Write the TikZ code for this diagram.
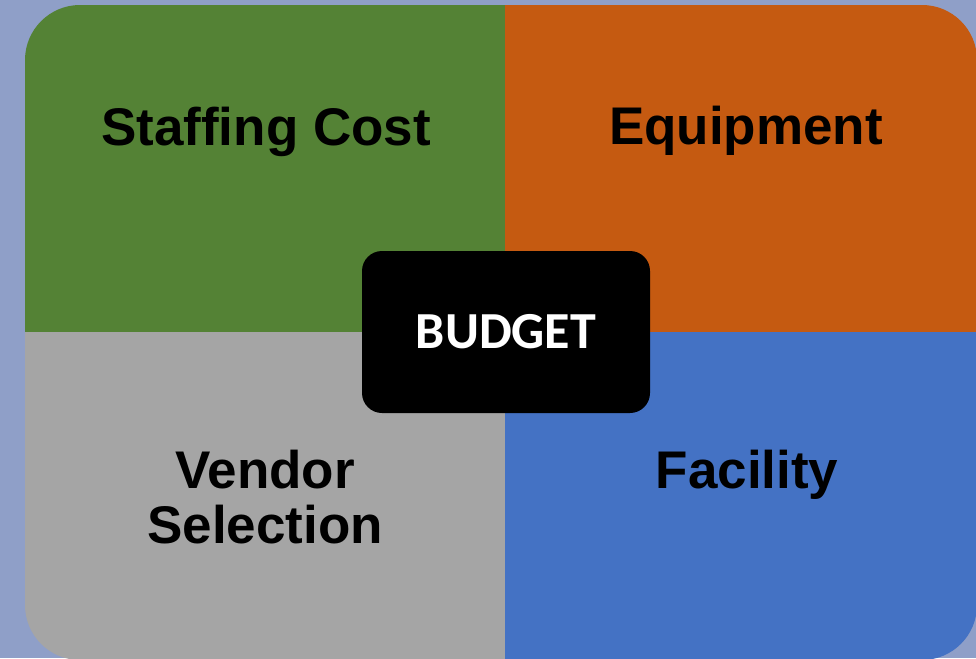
\documentclass[tikz,border=0pt]{standalone}
\usepackage{fontspec}
\setmainfont{Liberation Sans}
\newfontfamily\budgetfont{Carlito}
\usepackage{xcolor}
\definecolor{slateback}{HTML}{8F9FC8}
\definecolor{staffgreen}{HTML}{548235}
\definecolor{equiporange}{HTML}{C55A11}
\definecolor{vendorgray}{HTML}{A5A5A5}
\definecolor{facilityblue}{HTML}{4472C4}
\usepackage{tikz}
\usetikzlibrary{positioning,calc}

\begin{document}
\begin{tikzpicture}[x=1pt, y=-1pt, label/.style = {anchor=base, text=black, font=\bfseries\fontsize{53}{55}\selectfont, align=center, inner sep=0pt}, hub/.style = {fill=black, rounded corners=20pt, minimum width=288pt, minimum height=162pt, inner sep=0pt, text=white, font=\budgetfont\bfseries\fontsize{52}{60}\selectfont}]

\useasboundingbox (0,0) rectangle (976,658);
\fill[slateback] (0,0) rectangle (976,658);

% four quarters inside one rounded frame
\begin{scope}
\clip[rounded corners=55pt] (25,5) rectangle (977,660);
\fill[staffgreen] (25,5) rectangle (505,332);
\fill[equiporange] (505,5) rectangle (977,332);
\fill[vendorgray] (25,332) rectangle (505,660);
\fill[facilityblue] (505,332) rectangle (977,660);
\end{scope}

\node[label] (staff) at (266,145) {Staffing Cost};
\node[label] (equip) at (746,144) {Equipment};
% base of a two-line node sits on its last line
\node[label] (vendor) at (265,543) {Vendor\\Selection};
\node[label] (facility) at (747,488) {Facility};

\node[hub] (budget) at (506,332) {BUDGET};
\end{tikzpicture}
\end{document}
